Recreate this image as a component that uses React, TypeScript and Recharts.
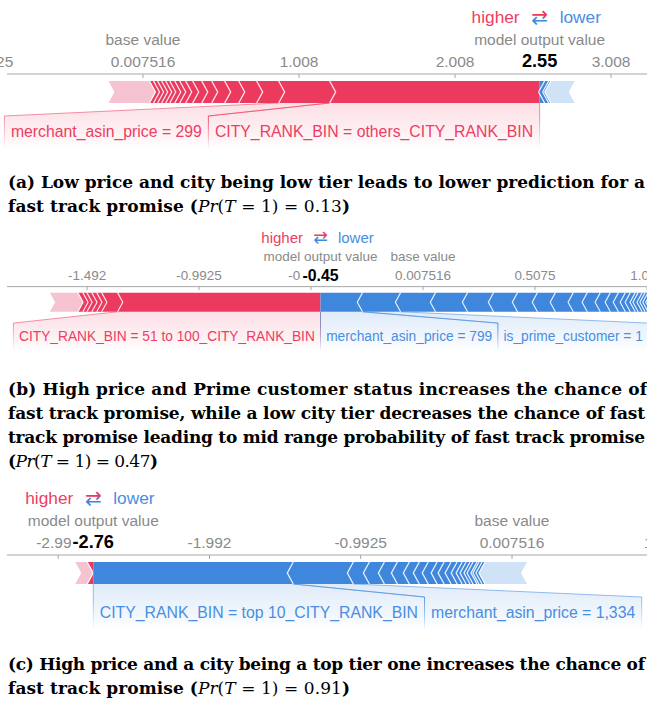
import React from 'react';
import { ComposedChart, Bar, XAxis, YAxis } from 'recharts';

// ---- colours & fonts ----
const RED = '#ec3a5f';
const RED_PALE = '#f6c3d0';
const BLUE = '#3f87dc';
const BLUE_PALE = '#cfe2f6';
const RED_INK = '#ee3d63';
const BLUE_INK = '#4a8ee0';
const GREY_INK = '#8a8a8a';
const AXIS_STROKE = '#a6a6a6';
const SANS = '"Liberation Sans", Arial, Helvetica, sans-serif';
const SERIF = '"DejaVu Serif", "Liberation Serif", serif';

// ---- shared ----
const BASE_VALUE = 0.007516;

// ---- (a) ----
const ticksA = [-0.9925, 0.007516, 1.008, 2.008, 3.008];
const outputA = 2.55;
const positiveA = [1.346, 0.327, 0.141, 0.115, 0.09, 0.083, 0.064, 0.058, 0.045, 0.038, 0.032, 0.032, 0.026, 0.026, 0.026, 0.026, 0.026];
const positiveTailA = 0.263;
const positiveNamesA = ['CITY_RANK_BIN = others_CITY_RANK_BIN', 'merchant_asin_price = 299'];
const negativeA = [0.032, 0.026, 0.013];
const negativeTailA = 0.154;
const negativeNamesA: string[] = [];

// ---- (b) ----
const ticksB = [-1.492, -0.9925, -0.4925, 0.007516, 0.5075, 1.008];
const outputB = -0.45;
const positiveB = [0.906, 0.071, 0.022, 0.022, 0.022, 0.018, 0.022];
const positiveTailB = 0.125;
const positiveNamesB = ['CITY_RANK_BIN = 51 to 100_CITY_RANK_BIN'];
const negativeB = [0.1875, 0.17, 0.156, 0.143, 0.116, 0.107, 0.089, 0.08, 0.08, 0.0625, 0.058, 0.045, 0.036, 0.031, 0.022, 0.022, 0.013, 0.018, 0.013, 0.013, 0.013, 0.009, 0.009];
const negativeTailB = 0.171;
const negativeNamesB = ['merchant_asin_price = 799', 'is_prime_customer = 1'];

// ---- (c) ----
const ticksC = [-2.992, -1.992, -0.9925, 0.007516, 1.008];
const outputC = -2.76;
const positiveC = [0.04];
const positiveTailC = 0.079;
const positiveNamesC: string[] = [];
const negativeC = [1.322, 0.397, 0.106, 0.099, 0.086, 0.079, 0.066, 0.059, 0.059, 0.046, 0.046, 0.04, 0.033, 0.026, 0.026, 0.02, 0.026, 0.013, 0.02, 0.02];
const negativeTailC = 0.278;
const negativeNamesC = ['CITY_RANK_BIN = top 10_CITY_RANK_BIN', 'merchant_asin_price = 1,334'];

// ---- captions ----
const captionA = ['(a) Low price and city being low tier leads to lower prediction for a', 'fast track promise '];
const probA = '0.13';
const captionB = [
  '(b) High price and Prime customer status increases the chance of',
  'fast track promise, while a low city tier decreases the chance of fast',
  'track promise leading to mid range probability of fast track promise',
  '',
];
const probB = '0.47';
const captionC = ['(c) High price and a city being a top tier one increases the chance of', 'fast track promise '];
const probC = '0.91';

// ---- layout of each force strip (page pixels) ----
type Layout = { id: string; k: number; axisY: number; pxPerUnit: number; baseX: number };
const LAYOUT_A: Layout = { id: 'a', k: 1, axisY: 74, pxPerUnit: 156, baseX: 143 };
const LAYOUT_B: Layout = { id: 'b', k: 0.87, axisY: 287, pxPerUnit: 224, baseX: 423 };
const LAYOUT_C: Layout = { id: 'c', k: 1, axisY: 555, pxPerUnit: 151.3, baseX: 512 };
const PAGE_W = 647;
const OVERHANG = 60;
const CHART_W = PAGE_W + 2 * OVERHANG;

let measureCtx: CanvasRenderingContext2D | null = null;
function textWidth(s: string, size: number, weight = 'normal'): number {
  if (typeof document !== 'undefined') {
    if (!measureCtx) measureCtx = document.createElement('canvas').getContext('2d');
    if (measureCtx) {
      measureCtx.font = `${weight} ${size}px "Liberation Sans"`;
      return measureCtx.measureText(s).width;
    }
  }
  return s.length * size * 0.55;
}

type Seg = { key: string; lo: number; hi: number; pos: boolean; tail: boolean; first: boolean; rank: number };

function buildSegments(out: number, pos: number[], posTail: number, neg: number[], negTail: number): Seg[] {
  const segs: Seg[] = [];
  let edge = out;
  [...pos, posTail].forEach((v, i) => {
    segs.push({ key: `p${i}`, lo: edge - v, hi: edge, pos: true, tail: i === pos.length, first: i === 0, rank: i });
    edge -= v;
  });
  edge = out;
  [...neg, negTail].forEach((v, i) => {
    segs.push({ key: `n${i}`, lo: edge, hi: edge + v, pos: false, tail: i === neg.length, first: i === 0, rank: i });
    edge += v;
  });
  return segs;
}

type StripCtx = { layout: Layout; out: number; posNames: string[]; negNames: string[]; posWidths: number[]; negWidths: number[]; labelSize: number };

function renderSegment(p: any, seg: Seg, c: StripCtx) {
  const { x, y, width, height } = p;
  if (x == null || width == null || !isFinite(width) || width <= 0) return <g />;
  const k = c.layout.k;
  const x0 = x;
  const x1 = x + width;
  const top = y;
  const bot = y + height;
  const mid = y + height / 2;
  const d = 6 * k;
  const fill = seg.tail ? (seg.pos ? RED_PALE : BLUE_PALE) : seg.pos ? RED : BLUE;

  const pts: number[][] = [];
  if (seg.pos) {
    pts.push([x0, top], [x1, top]);
    if (!seg.first) pts.push([x1 + d, mid]);
    pts.push([x1, bot], [x0, bot], [x0 + d, mid]);
  } else {
    pts.push([x0, top], [x1, top], [x1 - d, mid], [x1, bot], [x0, bot]);
    if (!seg.first) pts.push([x0 - d, mid]);
  }
  const edge = seg.first
    ? null
    : seg.pos
    ? `${x1},${top} ${x1 + d},${mid} ${x1},${bot}`
    : `${x0},${top} ${x0 - d},${mid} ${x0},${bot}`;

  const names = seg.pos ? c.posNames : c.negNames;
  const widths = seg.pos ? c.posWidths : c.negWidths;
  let label: React.ReactNode = null;
  if (!seg.tail && seg.rank < names.length) {
    const perUnit = width / (seg.hi - seg.lo);
    const outX = seg.pos ? x1 + (c.out - seg.hi) * perUnit : x0 - (seg.lo - c.out) * perUnit;
    const before = widths.slice(0, seg.rank).reduce((a, b) => a + b, 0);
    const w = widths[seg.rank];
    const R = seg.pos ? outX - before : outX + before + w;
    const L = R - w;
    const labTop = bot + 13 * k;
    const regionBot = bot + 46 * k;
    const ink = seg.pos ? RED_INK : BLUE_INK;
    const base = seg.pos ? RED : BLUE;
    const fid = `${c.layout.id}-${seg.key}-fill`;
    const lid = `${c.layout.id}-${seg.key}-line`;
    label = (
      <g>
        <defs>
          <linearGradient id={fid} gradientUnits="userSpaceOnUse" x1={0} x2={0} y1={bot} y2={regionBot}>
            <stop offset="0" stopColor={base} stopOpacity={0.16} />
            <stop offset="0.6" stopColor={base} stopOpacity={0.08} />
            <stop offset="1" stopColor={base} stopOpacity={0} />
          </linearGradient>
          <linearGradient id={lid} gradientUnits="userSpaceOnUse" x1={0} x2={0} y1={labTop} y2={regionBot}>
            <stop offset="0" stopColor={base} stopOpacity={0.55} />
            <stop offset="1" stopColor={base} stopOpacity={0} />
          </linearGradient>
        </defs>
        <polygon
          points={`${x0},${bot} ${x1},${bot} ${R},${labTop} ${R},${regionBot} ${L},${regionBot} ${L},${labTop}`}
          fill={`url(#${fid})`}
        />
        <line x1={x0} y1={bot} x2={L} y2={labTop} stroke={base} strokeOpacity={0.55} strokeWidth={1} />
        <line x1={x1} y1={bot} x2={R} y2={labTop} stroke={base} strokeOpacity={0.55} strokeWidth={1} />
        <rect x={L - 0.5} y={labTop} width={1} height={regionBot - labTop} fill={`url(#${lid})`} />
        <rect x={R - 0.5} y={labTop} width={1} height={regionBot - labTop} fill={`url(#${lid})`} />
        <text x={L + 6.5 * k} y={bot + 28 * k} dominantBaseline="central" fontFamily={SANS} fontSize={c.labelSize} fill={ink}>
          {names[seg.rank]}
        </text>
      </g>
    );
  }

  return (
    <g>
      <polygon points={pts.map((q) => q.join(',')).join(' ')} fill={fill} />
      {edge && <polyline points={edge} fill="none" stroke="#ffffff" strokeOpacity={0.85} strokeWidth={1.3 * k} />}
      {label}
    </g>
  );
}

// Output value annotation: legend, caption and the bold value on a white plate.
function OutputMarker({ cx, axisY, layout, value }: { cx: number; axisY: number; layout: Layout; value: number }) {
  const k = layout.k;
  const boldSize = 18.2 * k;
  const txt = String(value);
  const bw = textWidth(txt, boldSize, 'bold');
  const legendY = axisY - 57 * k;
  const gid = `${layout.id}-arrows`;
  return (
    <g>
      <defs>
        <linearGradient id={gid} gradientUnits="userSpaceOnUse" x1={0} x2={0} y1={legendY - 10 * k} y2={legendY + 10 * k}>
          <stop offset="0.5" stopColor={RED} />
          <stop offset="0.5" stopColor={BLUE} />
        </linearGradient>
      </defs>
      <text x={cx - 20 * k} y={legendY} textAnchor="end" dominantBaseline="central" fontFamily={SANS} fontSize={17.3 * k} fill={RED_INK}>
        higher
      </text>
      <text x={cx} y={legendY} textAnchor="middle" dominantBaseline="central" fontFamily='"DejaVu Sans", sans-serif' fontSize={20 * k} fill={`url(#${gid})`}>
        ⇄
      </text>
      <text x={cx + 20 * k} y={legendY} textAnchor="start" dominantBaseline="central" fontFamily={SANS} fontSize={17.3 * k} fill={BLUE_INK}>
        lower
      </text>
      <text x={cx} y={axisY - 35 * k} textAnchor="middle" dominantBaseline="central" fontFamily={SANS} fontSize={15.5 * k} fill={GREY_INK}>
        model output value
      </text>
      <rect x={cx - bw / 2 - 1.5} y={axisY - 13 * k - 10 * k} width={bw + 3} height={20 * k} fill="#ffffff" />
      <text x={cx} y={axisY - 13 * k} textAnchor="middle" dominantBaseline="central" fontFamily={SANS} fontWeight="bold" fontSize={boldSize} fill="#000000">
        {txt}
      </text>
    </g>
  );
}

function AxisTick(props: any) {
  const { x, y, payload, layout, out } = props;
  const k = layout.k;
  const v = payload.value;
  if (v === out) return <OutputMarker cx={x} axisY={y} layout={layout} value={out} />;
  return (
    <g>
      <line x1={x} x2={x} y1={y} y2={y + 4 * k} stroke={AXIS_STROKE} strokeWidth={1} />
      <text x={x} y={y - 13 * k} textAnchor="middle" dominantBaseline="central" fontFamily={SANS} fontSize={15.5 * k} fill={GREY_INK}>
        {String(v)}
      </text>
      {v === BASE_VALUE && (
        <text x={x} y={y - 35 * k} textAnchor="middle" dominantBaseline="central" fontFamily={SANS} fontSize={15.5 * k} fill={GREY_INK}>
          base value
        </text>
      )}
    </g>
  );
}

type StripProps = {
  layout: Layout;
  ticks: number[];
  out: number;
  pos: number[];
  posTail: number;
  neg: number[];
  negTail: number;
  posNames: string[];
  negNames: string[];
};

function ForceStrip({ layout, ticks, out, pos, posTail, neg, negTail, posNames, negNames }: StripProps) {
  const k = layout.k;
  const segs = buildSegments(out, pos, posTail, neg, negTail);
  const row: Record<string, any> = { row: 'effects' };
  segs.forEach((s) => {
    row[s.key] = [s.lo, s.hi];
  });
  const vMin = BASE_VALUE + (-OVERHANG - layout.baseX) / layout.pxPerUnit;
  const vMax = BASE_VALUE + (PAGE_W + OVERHANG - layout.baseX) / layout.pxPerUnit;
  const topSpace = 72 * k;
  const axisH = 25 * k;
  const plotH = 36 * k;
  const bottomSpace = 54 * k;
  const barSize = 22 * k;
  const labelSize = 15.8 * k;
  const ctx: StripCtx = {
    layout,
    out,
    posNames,
    negNames,
    labelSize,
    posWidths: posNames.map((n) => textWidth(n, labelSize) + 13 * k),
    negWidths: negNames.map((n) => textWidth(n, labelSize) + 13 * k),
  };
  const hiddenLead = OVERHANG + 7;
  // the output value goes last so its plate sits over neighbouring tick labels
  const axisTicks = [...ticks, out];
  return (
    <div style={{ position: 'absolute', left: -OVERHANG, top: layout.axisY - topSpace }}>
      <ComposedChart
        width={CHART_W}
        height={topSpace + plotH + bottomSpace}
        data={[row]}
        layout="vertical"
        margin={{ top: topSpace - axisH, right: 0, bottom: bottomSpace, left: 0 }}
        barGap={-barSize}
        barSize={barSize}
      >
        <XAxis
          type="number"
          orientation="top"
          domain={[vMin, vMax]}
          ticks={axisTicks}
          interval={0}
          height={axisH}
          tickSize={0}
          tickMargin={0}
          tickLine={false}
          axisLine={{ stroke: AXIS_STROKE, strokeWidth: 1, strokeDasharray: `0 ${hiddenLead} 100000` }}
          tick={(p: any) => <AxisTick {...p} layout={layout} out={out} />}
        />
        <YAxis type="category" dataKey="row" hide width={0} />
        {segs.map((s) => (
          <Bar key={s.key} dataKey={s.key} isAnimationActive={false} shape={(p: any) => renderSegment(p, s, ctx)} />
        ))}
      </ComposedChart>
    </div>
  );
}

function ProbTail({ prob }: { prob: string }) {
  return (
    <>
      <tspan>(</tspan>
      <tspan fontStyle="italic" fontWeight="normal">Pr</tspan>
      <tspan fontWeight="normal">(</tspan>
      <tspan fontStyle="italic" fontWeight="normal">T</tspan>
      <tspan fontWeight="normal">{` = 1) = ${prob}`}</tspan>
      <tspan>)</tspan>
    </>
  );
}

function CaptionLine({ y, end, children }: { y: number; end: number; children: React.ReactNode }) {
  return (
    <text x={8} y={y} textLength={end - 8} lengthAdjust="spacing" fontFamily={SERIF} fontWeight="bold" fontSize={17} fill="#000000">
      {children}
    </text>
  );
}

export default function App() {
  return (
    <div style={{ position: 'absolute', left: 0, top: 0, width: PAGE_W, height: 705, overflow: 'hidden', background: '#ffffff' }}>
      <svg width={PAGE_W} height={705} style={{ position: 'absolute', left: 0, top: 0 }}>
        <CaptionLine y={188} end={645}>{captionA[0]}</CaptionLine>
        <CaptionLine y={212} end={350}>
          {captionA[1]}
          <ProbTail prob={probA} />
        </CaptionLine>
        <CaptionLine y={395} end={647}>{captionB[0]}</CaptionLine>
        <CaptionLine y={419} end={645}>{captionB[1]}</CaptionLine>
        <CaptionLine y={443} end={645}>{captionB[2]}</CaptionLine>
        <CaptionLine y={467} end={158}>
          {captionB[3]}
          <ProbTail prob={probB} />
        </CaptionLine>
        <CaptionLine y={670} end={645}>{captionC[0]}</CaptionLine>
        <CaptionLine y={694} end={350}>
          {captionC[1]}
          <ProbTail prob={probC} />
        </CaptionLine>
      </svg>
      <ForceStrip layout={LAYOUT_A} ticks={ticksA} out={outputA} pos={positiveA} posTail={positiveTailA} neg={negativeA} negTail={negativeTailA} posNames={positiveNamesA} negNames={negativeNamesA} />
      <ForceStrip layout={LAYOUT_B} ticks={ticksB} out={outputB} pos={positiveB} posTail={positiveTailB} neg={negativeB} negTail={negativeTailB} posNames={positiveNamesB} negNames={negativeNamesB} />
      <ForceStrip layout={LAYOUT_C} ticks={ticksC} out={outputC} pos={positiveC} posTail={positiveTailC} neg={negativeC} negTail={negativeTailC} posNames={positiveNamesC} negNames={negativeNamesC} />
    </div>
  );
}
